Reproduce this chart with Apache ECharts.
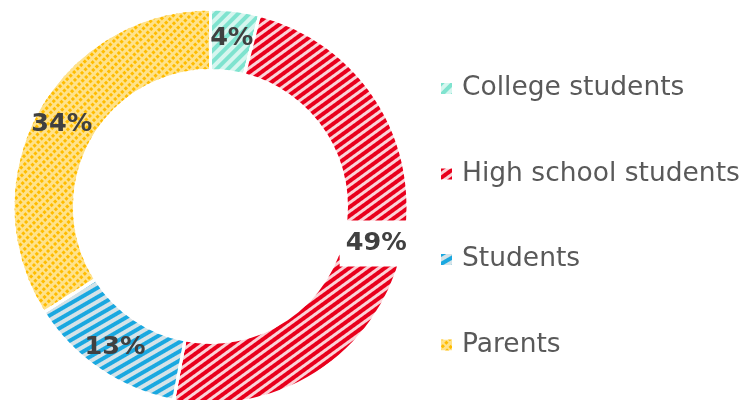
<!DOCTYPE html>
<html>
<head>
<meta charset="utf-8">
<script src="https://cdn.jsdelivr.net/npm/echarts@6/dist/echarts.min.js"></script>
<style>html,body{margin:0;padding:0;background:#fff}#c{width:743px;height:400px}</style>
</head>
<body>
<div id="c"></div>
<script>
const categories = ['College students', 'High school students', 'Students', 'Parents'];
const values = [4, 49, 13, 34];
const strongColors = ['#7fe3cf', '#e8001c', '#1aa8e0', '#ffbc00'];
const paleColors = ['#d6f6ef', '#fbd3d8', '#d5e3e8', '#ffe28a'];
const decals = [
  {symbol:'rect', symbolSize:1, dashArrayX:[1,0], dashArrayY:[3.5,3.5], rotation:-Math.PI/4},
  {symbol:'rect', symbolSize:1, dashArrayX:[1,0], dashArrayY:[3.5,3], rotation:-Math.PI/5},
  {symbol:'rect', symbolSize:1, dashArrayX:[1,0], dashArrayY:[3.5,3.5], rotation:-Math.PI/6},
  {symbol:'rect', symbolSize:1, dashArrayX:[2.5,1.5], dashArrayY:[2.5,3], rotation:-Math.PI/4}
];
const chart = echarts.init(document.getElementById('c'));
const data = categories.map((name, i) => {
  const d = {
    name: name,
    value: values[i],
    itemStyle: {
      color: paleColors[i],
      decal: Object.assign({color: strongColors[i]}, decals[i])
    }
  };
  if (i === 1) {
    d.label = {backgroundColor: '#fff', padding: [10, 6]};
  }
  return d;
});
chart.setOption({
  animation: false,
  aria: {enabled: true, decal: {show: true}},
  legend: {
    orient: 'vertical',
    left: 434,
    top: 70,
    itemWidth: 13,
    itemHeight: 13,
    itemGap: 58.5,
    icon: 'rect',
    textStyle: {fontFamily: 'DejaVu Sans', fontSize: 26.5, color: '#595959', padding: [0, 0, 0, 4]},
    data: categories
  },
  series: [{
    type: 'pie',
    center: [210.5, 206.5],
    radius: [136, 197.5],
    startAngle: 90,
    itemStyle: {borderColor: '#fff', borderWidth: 3},
    label: {
      position: 'inside',
      formatter: '{d}%',
      fontFamily: 'DejaVu Sans',
      fontWeight: 'bold',
      fontSize: 25.5,
      color: '#404040'
    },
    labelLine: {show: false},
    data: data
  }]
});
</script>
</body>
</html>
